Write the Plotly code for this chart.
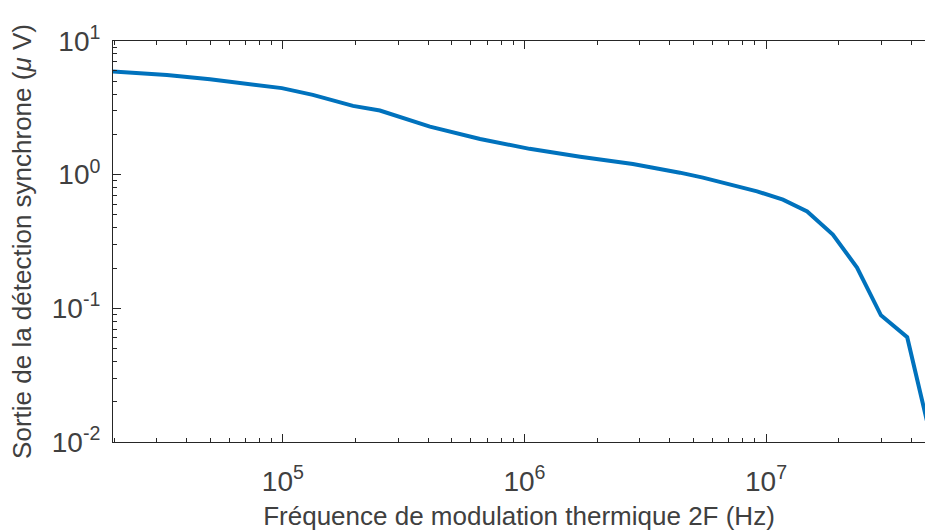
import numpy as np
import plotly.graph_objects as go

# frequence (Hz) et sortie de la detection synchrone (uV)
freq = [1.98e4, 3.31e4, 4.99e4, 7.30e4, 9.9e4, 1.33e5, 1.95e5, 2.52e5, 3.05e5,
        4.06e5, 6.55e5, 1.05e6, 1.70e6, 2.81e6, 4.40e6, 5.48e6, 9.18e6,
        1.175e7, 1.48e7, 1.89e7, 2.38e7, 2.99e7, 3.84e7, 4.8e7]
sortie = [5.91, 5.57, 5.18, 4.75, 4.44, 3.95, 3.27, 3.02, 2.71,
          2.29, 1.85, 1.56, 1.36, 1.20, 1.035, 0.95, 0.75,
          0.65, 0.53, 0.356, 0.202, 0.0887, 0.0608, 0.011]

x_major = [1e5, 1e6, 1e7]
x_labels = ["10<sup>5</sup>", "10<sup>6</sup>", "10<sup>7</sup>"]
y_major = [1e-2, 1e-1, 1e0, 1e1]
y_labels = ["10<sup>-2</sup>", "10<sup>-1</sup>", "10<sup>0</sup>", "10<sup>1</sup>"]
x_minor = [m * d for d in [1e4, 1e5, 1e6, 1e7] for m in range(2, 10)]
y_minor = [m * d for d in [1e-2, 1e-1, 1e0] for m in range(2, 10)]

txt = "#262626"
font = dict(family="Liberation Sans, Arial, sans-serif", size=22, color="#404040")
tickfont = dict(family="Liberation Sans Narrow, Liberation Sans, sans-serif", size=28, color="#404040")

fig = go.Figure(
    data=go.Scatter(
        x=freq, y=sortie, mode="lines",
        line=dict(color="#0072BD", width=4),
    )
)

fig.update_layout(
    width=925, height=531,
    margin=dict(l=113, r=0, t=41, b=89),
    paper_bgcolor="white", plot_bgcolor="white",
    font=font, showlegend=False,
)

fig.update_xaxes(
    type="log", range=[np.log10(1.98e4), np.log10(4.55e7)], automargin=False,
    tickmode="array", tickvals=x_major, ticktext=x_labels, tickfont=tickfont,
    ticks="inside", ticklen=8, tickcolor=txt, tickwidth=1, ticklabelstandoff=14,
    minor=dict(tickmode="array", tickvals=x_minor, ticks="inside",
               ticklen=4, tickcolor=txt, tickwidth=1, showgrid=False),
    showline=True, linecolor=txt, linewidth=1, mirror="allticks",
    showgrid=False, zeroline=False,
    title=dict(text="Fréquence de modulation thermique 2F (Hz)"),
)

fig.update_yaxes(
    type="log", range=[-2, 1], automargin=False,
    tickmode="array", tickvals=y_major, ticktext=y_labels, tickfont=tickfont,
    ticks="inside", ticklen=8, tickcolor=txt, tickwidth=1, ticklabelstandoff=6,
    minor=dict(tickmode="array", tickvals=y_minor, ticks="inside",
               ticklen=4, tickcolor=txt, tickwidth=1, showgrid=False),
    showline=True, linecolor=txt, linewidth=1, mirror=False,
    showgrid=False, zeroline=False,
    title=dict(text="Sortie de la détection synchrone (<i>μ</i> V)", standoff=12),
)

# sans la marge du <body> la figure remplit toute la fenetre
fig.write_html("out.html", config={"displayModeBar": False},
               post_script="document.body.style.margin='0px';")
